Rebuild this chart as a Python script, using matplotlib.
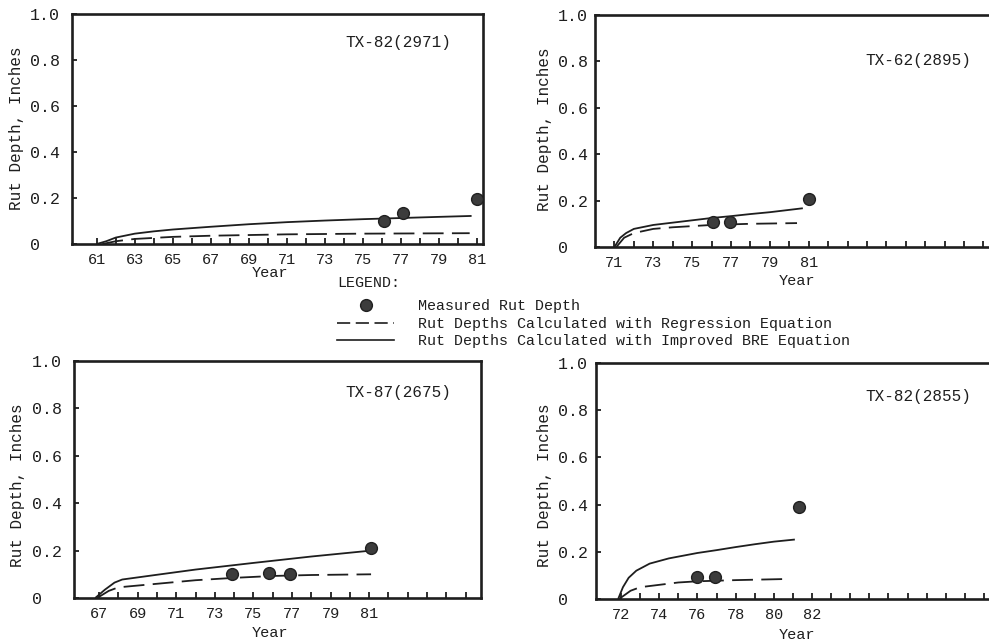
import matplotlib
matplotlib.use("Agg")
import matplotlib.pyplot as plt
from matplotlib.lines import Line2D
import numpy as np

plt.rcParams['font.family'] = ['Liberation Mono', 'DejaVu Sans Mono']
plt.rcParams['lines.scale_dashes'] = False

# ---------------- data ----------------
# Panel 1: TX-82(2971)
p1_title = "TX-82(2971)"
p1_meas_x = [76.1, 77.1, 81.0]
p1_meas_y = [0.10, 0.135, 0.195]
p1_bre_x = [61.0, 61.5, 62.0, 63.0, 64.0, 65.0, 67.0, 69.0, 71.0, 73.0, 75.0, 77.0, 79.0, 80.7]
p1_bre_y = [0.0, 0.012, 0.028, 0.045, 0.055, 0.063, 0.075, 0.086, 0.095, 0.102, 0.108, 0.113, 0.118, 0.122]
p1_reg_x = [61.3, 62.0, 63.0, 65.0, 67.0, 69.0, 71.0, 75.0, 80.6]
p1_reg_y = [0.0, 0.012, 0.022, 0.031, 0.036, 0.039, 0.042, 0.045, 0.047]
p1_ticklabels = [61, 63, 65, 67, 69, 71, 73, 75, 77, 79, 81]

# Panel 2: TX-62(2895)
p2_title = "TX-62(2895)"
p2_meas_x = [76.05, 76.95, 81.0]
p2_meas_y = [0.108, 0.108, 0.207]
p2_bre_x = [71.0, 71.3, 71.6, 72.0, 73.0, 74.0, 75.0, 76.0, 77.0, 78.0, 79.0, 80.0, 80.7]
p2_bre_y = [0.0, 0.04, 0.06, 0.078, 0.095, 0.105, 0.115, 0.125, 0.133, 0.142, 0.150, 0.160, 0.167]
p2_reg_x = [71.1, 71.5, 72.0, 73.0, 74.0, 76.0, 78.0, 80.4]
p2_reg_y = [0.0, 0.04, 0.06, 0.078, 0.085, 0.095, 0.100, 0.103]
p2_ticklabels = [71, 73, 75, 77, 79, 81]

# Panel 3: TX-87(2675)
p3_title = "TX-87(2675)"
p3_meas_x = [73.9, 75.8, 76.9, 81.1]
p3_meas_y = [0.10, 0.105, 0.10, 0.21]
p3_bre_x = [66.8, 67.3, 67.8, 68.2, 70.0, 72.0, 75.0, 78.0, 81.1]
p3_bre_y = [0.0, 0.035, 0.065, 0.078, 0.098, 0.12, 0.148, 0.175, 0.20]
p3_reg_x = [66.9, 67.5, 68.0, 70.0, 72.0, 74.0, 76.0, 78.0, 81.1]
p3_reg_y = [0.0, 0.03, 0.045, 0.06, 0.075, 0.085, 0.093, 0.097, 0.10]
p3_ticklabels = [67, 69, 71, 73, 75, 77, 79, 81]

# Panel 4: TX-82(2855)
p4_title = "TX-82(2855)"
p4_meas_x = [76.0, 76.9, 81.3]
p4_meas_y = [0.093, 0.093, 0.39]
p4_bre_x = [71.85, 72.1, 72.4, 72.8, 73.5, 74.5, 76.0, 77.0, 78.0, 79.0, 80.0, 81.1]
p4_bre_y = [0.0, 0.05, 0.09, 0.12, 0.15, 0.172, 0.195, 0.207, 0.22, 0.232, 0.243, 0.252]
p4_reg_x = [71.9, 72.5, 73.0, 74.0, 75.0, 76.0, 78.0, 80.8]
p4_reg_y = [0.0, 0.035, 0.05, 0.06, 0.07, 0.075, 0.08, 0.085]
p4_ticklabels = [72, 74, 76, 78, 80, 82]

y_ticks = [0, 0.2, 0.4, 0.6, 0.8, 1.0]
y_ticklabels = ["0", "0.2", "0.4", "0.6", "0.8", "1.0"]

legend_labels = ["Measured Rut Depth",
                 "Rut Depths Calculated with Regression Equation",
                 "Rut Depths Calculated with Improved BRE Equation"]

# ---------------- layout ----------------
W, H = 989, 641
fig = plt.figure(figsize=(W / 100, H / 100), dpi=100)
ink = '#1e1e1e'

def px_rect(l, t, r, b):
    return [l / W, (H - b) / H, (r - l) / W, (b - t) / H]

panels = [
    dict(rect=px_rect(72, 14, 483, 244), xlim=(59.7, 81.3), minor=(61, 81),
         title=p1_title, tpos=(0.793, 0.874), ypad=30.2, right=True,
         mx=p1_meas_x, my=p1_meas_y, bx=p1_bre_x, by=p1_bre_y, rx=p1_reg_x, ry=p1_reg_y,
         xt=p1_ticklabels),
    dict(rect=px_rect(595, 15, 1000, 247), xlim=(70.0, 90.85), minor=(71, 90),
         title=p2_title, tpos=(0.798, 0.806), ypad=26.6, right=False,
         mx=p2_meas_x, my=p2_meas_y, bx=p2_bre_x, by=p2_bre_y, rx=p2_reg_x, ry=p2_reg_y,
         xt=p2_ticklabels),
    dict(rect=px_rect(74, 361, 481, 598), xlim=(65.7, 86.8), minor=(67, 86),
         title=p3_title, tpos=(0.796, 0.865), ypad=30.2, right=True,
         mx=p3_meas_x, my=p3_meas_y, bx=p3_bre_x, by=p3_bre_y, rx=p3_reg_x, ry=p3_reg_y,
         xt=p3_ticklabels),
    dict(rect=px_rect(596, 363, 1000, 599), xlim=(70.69, 91.84), minor=(72, 91),
         title=p4_title, tpos=(0.797, 0.856), ypad=27.4, right=False,
         mx=p4_meas_x, my=p4_meas_y, bx=p4_bre_x, by=p4_bre_y, rx=p4_reg_x, ry=p4_reg_y,
         xt=p4_ticklabels),
]

dash = (0, (15, 6))
for p in panels:
    ax = fig.add_axes(p['rect'])
    ax.set_xlim(*p['xlim'])
    ax.set_ylim(0, 1.0)
    ax.plot(p['bx'], p['by'], color=ink, lw=1.3, solid_capstyle='butt')
    ax.plot(p['rx'], p['ry'], color=ink, lw=1.3, linestyle=dash)
    ax.plot(p['mx'], p['my'], linestyle='none', marker='o', markersize=8.5,
            markerfacecolor='#3c3c3c', markeredgecolor='#202020', markeredgewidth=1.0,
            clip_on=False, zorder=5)
    for s in ax.spines.values():
        s.set_linewidth(1.9)
        s.set_color(ink)
    if not p['right']:
        ax.spines['right'].set_visible(False)
    ax.set_xticks(p['xt'])
    ax.set_xticklabels([str(v) for v in p['xt']])
    ax.set_xticks(list(range(p['minor'][0], p['minor'][1] + 1)), minor=True)
    ax.set_yticks(y_ticks)
    ax.set_yticklabels(y_ticklabels)
    ax.tick_params(axis='x', which='both', direction='in', length=4.5, width=1.3,
                   color=ink, labelsize=11, labelcolor=ink, pad=6.5)
    ax.tick_params(axis='y', which='both', direction='in', length=3.5, width=1.3,
                   color=ink, labelsize=12, labelcolor=ink, pad=p['ypad'])
    for lab in ax.get_yticklabels():
        lab.set_horizontalalignment('left')
    ax.text(p['tpos'][0], p['tpos'][1], p['title'], transform=ax.transAxes,
            ha='center', va='center', fontsize=11.5, color=ink)

# axis labels
for (x, y) in [(270, 273), (797, 281), (270, 633), (797, 635)]:
    fig.text(x / W, (H - y) / H, "Year", ha='center', va='center', fontsize=11, color=ink)
for (x, y) in [(17, 128), (545, 129), (18, 485), (545, 485)]:
    fig.text(x / W, (H - y) / H, "Rut Depth, Inches", ha='center', va='center',
             rotation=90, fontsize=11.5, color=ink)

# legend
fig.text(337 / W, (H - 283) / H, "LEGEND:", ha='left', va='center', fontsize=10.8, color=ink)
handles = [
    Line2D([], [], linestyle='none', marker='o', markersize=8.5,
           markerfacecolor='#3c3c3c', markeredgecolor='#202020'),
    Line2D([], [], color=ink, lw=1.2, linestyle=(0, (9.5, 4))),
    Line2D([], [], color=ink, lw=1.2),
]
leg = fig.legend(handles, legend_labels, loc='upper left',
                 bbox_to_anchor=(337 / W, (H - 299) / H), frameon=False,
                 handlelength=3.8, handletextpad=1.6, labelspacing=0.25, borderpad=0,
                 borderaxespad=0, fontsize=10.8)
for t in leg.get_texts():
    t.set_color(ink)

fig.savefig("out.png", dpi=100)
